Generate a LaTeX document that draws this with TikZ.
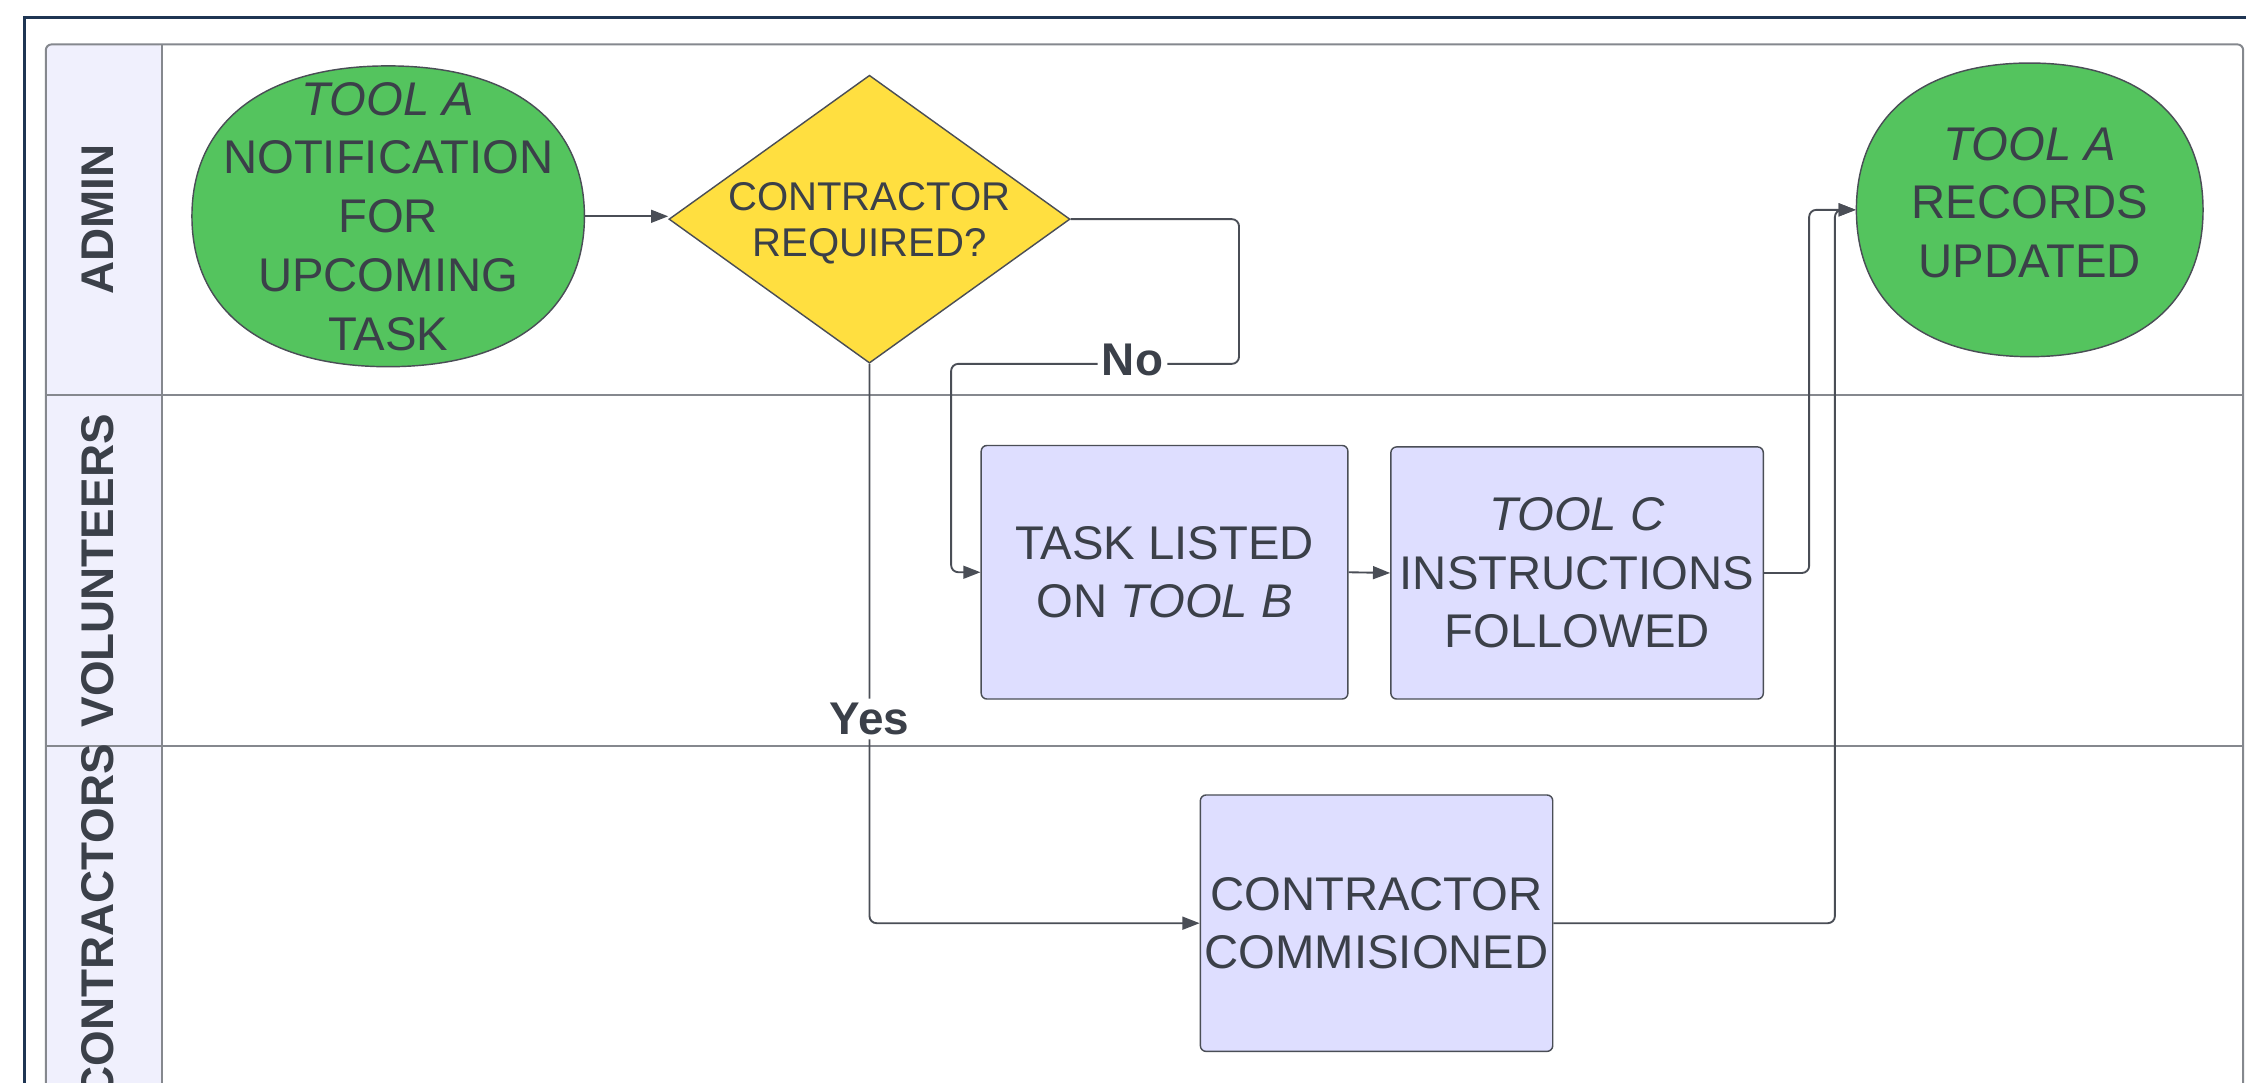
\documentclass[tikz,border=0pt]{standalone}
\usepackage{fontspec}
\setmainfont{Liberation Sans}
\usetikzlibrary{arrows.meta,shapes.geometric}
\definecolor{navy}{HTML}{1F3553}
\definecolor{lanegray}{HTML}{85888E}
\definecolor{headfill}{HTML}{F0F0FD}
\definecolor{termgreen}{HTML}{54C45E}
\definecolor{decyellow}{HTML}{FFDF40}
\definecolor{boxlav}{HTML}{DEDEFF}
\definecolor{txt}{HTML}{3B4049}
\definecolor{conn}{HTML}{4A4E56}
\newcommand\blobshape[5]{%
  \path[#5] ({#1},{#2-#4}) .. controls ({#1+0.63*#3},{#2-#4}) and ({#1+#3},{#2-0.63*#4}) .. ({#1+#3},{#2})
   .. controls ({#1+#3},{#2+0.63*#4}) and ({#1+0.63*#3},{#2+#4}) .. ({#1},{#2+#4})
   .. controls ({#1-0.63*#3},{#2+#4}) and ({#1-#3},{#2+0.63*#4}) .. ({#1-#3},{#2})
   .. controls ({#1-#3},{#2-0.63*#4}) and ({#1-0.63*#3},{#2-#4}) .. cycle;}
\begin{document}
\begin{tikzpicture}[x=0.5pt,y=-0.5pt,
  lanelabel/.style={rotate=90, font=\fontsize{16}{19}\selectfont\bfseries, text=txt, inner sep=0pt},
  proc/.style={draw=conn, line width=0.5pt, fill=boxlav, rounded corners=2pt, text=txt, align=center,
     font=\fontsize{16.5}{20.5}\selectfont, inner sep=0pt},
  termtext/.style={text=txt, align=center, font=\fontsize{16.5}{20.5}\selectfont, inner sep=0pt},
  termfill/.style={fill=termgreen, draw=conn, line width=0.5pt},
  decision/.style={diamond, draw=conn, line width=0.5pt, fill=decyellow, inner sep=0pt},
  flow/.style={draw=conn, line width=0.65pt, -{Triangle[length=6pt,width=4.5pt]}, rounded corners=2.5pt},
  lbl/.style={fill=white, text=txt, font=\fontsize{16}{18}\selectfont\bfseries, inner sep=1.5pt}
]
\clip (0,0) rectangle (1568,756);
\fill[white] (0,0) rectangle (1568,756);
% outer frame
\draw[navy, line width=1.1pt] (17,12) rectangle (1700,900);
% pool
\fill[headfill, rounded corners=2pt] (32,31) rectangle (113,820);
\draw[lanegray, line width=0.7pt, rounded corners=2pt] (32,31) rectangle (1566,820);
\draw[lanegray, line width=0.8pt] (32,276) -- (1566,276);
\draw[lanegray, line width=0.8pt] (32,521) -- (1566,521);
\draw[lanegray, line width=0.7pt] (113,31) -- (113,820);
\node[lanelabel] (L1) at (68.5,153.5) {ADMIN};
\node[lanelabel] (L2) at (68.5,398.5) {VOLUNTEERS};
\node[lanelabel] (L3) at (68.5,643.5) {CONTRACTORS};
% terminators
\blobshape{271}{151}{137}{105}{termfill}
\node[termtext, minimum width=137pt, minimum height=105pt] (A) at (271,151)
  {\textit{TOOL A}\\NOTIFICATION\\FOR\\UPCOMING\\TASK};
\blobshape{1417}{146.5}{121}{102.5}{termfill}
\node[minimum width=121pt, minimum height=102.5pt, inner sep=0pt,
  label={[termtext, yshift=2.5pt]center:\textit{TOOL A}\\RECORDS\\UPDATED}] (E) at (1417,146.5) {};
% decision
\node[decision, minimum width=140pt, minimum height=100.5pt,
  label={[text=txt, align=center, font=\fontsize{14}{16}\selectfont, yshift=-1.5pt]center:CONTRACTOR\\REQUIRED?}]
  (D) at (607,153) {};
% processes
\node[proc, minimum width=128pt, minimum height=88.5pt] (B) at (813,399.5) {TASK LISTED\\ON \textit{TOOL B}};
\node[proc, minimum width=130pt, minimum height=88pt] (C) at (1101,400) {\textit{TOOL C}\\INSTRUCTIONS\\FOLLOWED};
\node[proc, minimum width=123pt, minimum height=89.5pt] (F) at (961,644.5) {CONTRACTOR\\COMMISIONED};
% connectors
\draw[flow] (A.east) -- (A.east -| D.west);
\draw[flow] (D.east) -| (865,254) -- node[lbl, pos=0.37, yshift=1.5pt] (no) {No} (664,254) |- (B.west);
\draw[flow] (D.south) |- node[lbl, pos=0.3175] (yes) {Yes} (F.west);
\draw[flow] (B.east) -- (C.west);
\draw[flow] (C.east) -| (1263,146.5) -- (E.west);
\draw[flow] (F.east) -| (1281,146.5) -- (E.west);
\end{tikzpicture}
\end{document}
